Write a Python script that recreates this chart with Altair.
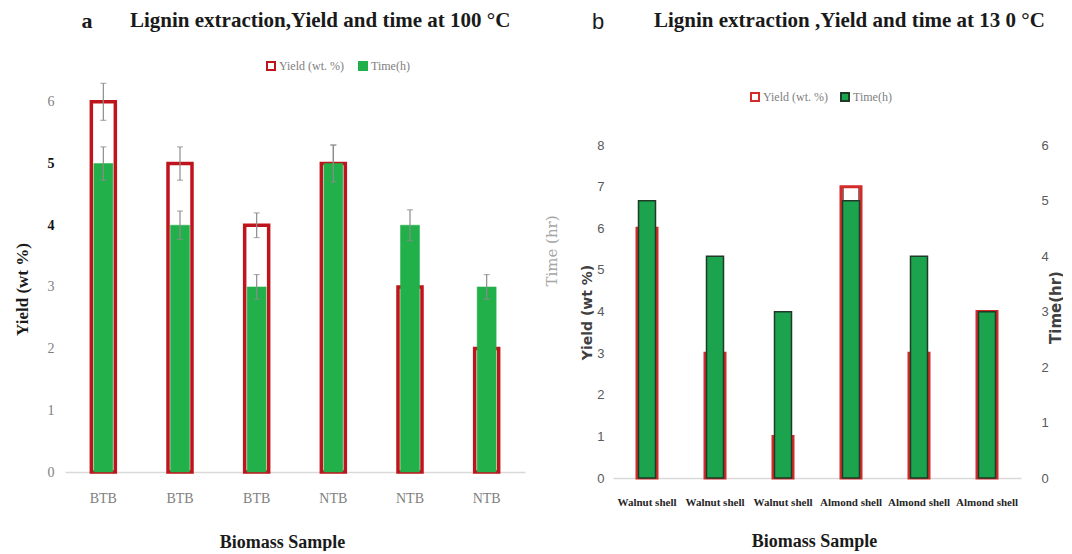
import json
import altair as alt
import pandas as pd

# ---------------- data: panel a (100 °C) ----------------
a_samples = ["BTB", "BTB", "BTB", "NTB", "NTB", "NTB"]
a_yield = [6, 5, 4, 5, 3, 2]
a_time = [5, 4, 3, 5, 4, 3]
a_yield_err = [0.3, 0.27, 0.2, 0.3, 0.25, 0.2]
a_time_err = [0.27, 0.23, 0.2, 0.3, 0.25, 0.2]
a_ticks = [0, 1, 2, 3, 4, 5, 6]

# ---------------- data: panel b (130 °C) ----------------
b_samples = ["Walnut shell", "Walnut shell", "Walnut shell",
             "Almond shell", "Almond shell", "Almond shell"]
b_yield = [6, 3, 1, 7, 3, 4]
b_time = [5, 4, 3, 5, 4, 3]
b_yield_ticks = [0, 1, 2, 3, 4, 5, 6, 7, 8]
b_time_ticks = [0, 1, 2, 3, 4, 5, 6]

series = ["Yield (wt. %)", "Time(h)"]
a_title = "Lignin extraction,Yield and time at 100  °C"
b_title = "Lignin extraction ,Yield and time at 13 0 °C"

SERIF = "Liberation Serif"
SANS = "DejaVu Sans"


def frame(values, errs, name):
    d = pd.DataFrame({"idx": list(range(len(values))), "value": values, "series": name})
    if errs is not None:
        d["lo"] = [v - e for v, e in zip(values, errs)]
        d["hi"] = [v + e for v, e in zip(values, errs)]
    return d


def text_layer(txt, x, y, **kw):
    return alt.Chart(pd.DataFrame({"t": [txt]})).mark_text(**kw).encode(
        text="t:N", x=alt.value(x), y=alt.value(y))


# ================= panel a =================
W_A, H_A = 460, 401
A_TOP = 6.5

a_y = frame(a_yield, a_yield_err, series[0])
a_t = frame(a_time, a_time_err, series[1])

ax_a = alt.X(
    "idx:O",
    scale=alt.Scale(paddingInner=0, paddingOuter=0),
    axis=alt.Axis(
        labelExpr=json.dumps(a_samples) + "[datum.value]",
        labelAngle=0, grid=False, ticks=False, tickSize=0,
        domainColor="#d9d9d9", domainWidth=1.5,
        labelFont=SERIF, labelFontSize=14, labelColor="#808080", labelPadding=19,
        title="Biomass Sample", titleFont=SERIF, titleFontSize=18, titleFontWeight="bold",
        titleColor="#1a1a1a", titleX=217, titleY=70, titleAlign="center", titleBaseline="middle",
    ),
)

cond = "datum.value == 4 || datum.value == 5"
ay_axis = alt.Axis(
    values=a_ticks, grid=False, domain=False, ticks=False, tickSize=0, labelPadding=11,
    labelFont=SERIF, labelFontSize=14,
    labelColor={"condition": {"test": cond, "value": "#111111"}, "value": "#808080"},
    labelFontWeight={"condition": {"test": cond, "value": "bold"}, "value": "normal"},
    title="Yield (wt %)", titleFont=SERIF, titleFontSize=17, titleFontWeight="bold",
    titleColor="#1a1a1a", titleAngle=270, titleX=-43, titleY=218,
    titleAlign="center", titleBaseline="middle",
)


def ya(field):
    return alt.Y(f"{field}:Q", scale=alt.Scale(domain=[0, A_TOP], nice=False), axis=ay_axis)


leg_a = alt.Legend(
    orient="none", legendX=200, legendY=-11, direction="horizontal", title=None,
    symbolType="square", symbolSize=64, symbolStrokeWidth=2,
    labelFont=SERIF, labelFontSize=12, labelColor="#808080", columnPadding=11, labelOffset=2,
)
a_fill = alt.Fill("series:N", scale=alt.Scale(domain=series, range=["#ffffff", "#22b04b"]), legend=leg_a)
a_stroke = alt.Stroke("series:N", scale=alt.Scale(domain=series, range=["#c0141c", "#22b04b"]), legend=leg_a)

a_red = alt.Chart(a_y).mark_bar(size=24, strokeWidth=3.5).encode(
    x=ax_a, y=ya("value"), fill=a_fill, stroke=a_stroke)
a_yerr = alt.Chart(a_y).mark_errorbar(
    color="#8c8c8c", thickness=1.2, ticks={"size": 6, "thickness": 1.2}
).encode(x=ax_a, y=ya("lo"), y2="hi:Q")
a_green = alt.Chart(a_t).mark_bar(size=19, strokeWidth=0.5).encode(
    x=ax_a, y=ya("value"), fill=a_fill, stroke=a_stroke)
a_terr = alt.Chart(a_t).mark_errorbar(
    color="#8c8c8c", thickness=1.2, ticks={"size": 6, "thickness": 1.2}
).encode(x=ax_a, y=ya("lo"), y2="hi:Q")

a_letter = text_layer("a", 22, -50, font=SERIF, fontSize=22, fontWeight="bold",
                      color="#1a1a1a", align="center", baseline="middle")
a_head = text_layer(a_title, 65, -50, font=SERIF, fontSize=21, fontWeight="bold",
                    color="#1a1a1a", align="left", baseline="middle")

left = alt.layer(a_red, a_yerr, a_green, a_terr, a_letter, a_head).properties(
    width=W_A, height=H_A)

# ================= panel b =================
W_B, H_B = 408, 407
B_TOP_Y = 9.78
B_TOP_T = 7.34

b_y = frame(b_yield, None, series[0])
b_t = frame(b_time, None, series[1])

ax_b = alt.X(
    "idx:O",
    scale=alt.Scale(paddingInner=0, paddingOuter=0),
    axis=alt.Axis(
        labelExpr=json.dumps(b_samples) + "[datum.value]",
        labelAngle=0, grid=False, ticks=False, tickSize=0,
        domainColor="#d9d9d9", domainWidth=1.5,
        labelFont=SERIF, labelFontSize=11, labelFontWeight="bold", labelColor="#262626",
        labelPadding=18,
        title="Biomass Sample", titleFont=SERIF, titleFontSize=18, titleFontWeight="bold",
        titleColor="#1a1a1a", titleX=201, titleY=63, titleAlign="center", titleBaseline="middle",
    ),
)

by_axis = alt.Axis(
    orient="left", values=b_yield_ticks, grid=False, domain=False, ticks=False, tickSize=0,
    labelPadding=9, labelFont="Liberation Sans", labelFontSize=13, labelColor="#595959",
    title="Yield (wt %)", titleFont=SANS, titleFontSize=14, titleFontWeight="bold",
    titleColor="#404040", titleAngle=270, titleX=-26, titleY=241,
    titleAlign="center", titleBaseline="middle",
)
bt_axis = alt.Axis(
    orient="right", values=b_time_ticks, grid=False, domain=False, ticks=False, tickSize=0,
    labelPadding=20, labelFont="Liberation Sans", labelFontSize=13, labelColor="#595959",
    title="Time(hr)", titleFont=SANS, titleFontSize=15, titleFontWeight="bold",
    titleColor="#404040", titleAngle=270, titleX=34, titleY=236,
    titleAlign="center", titleBaseline="middle",
)

leg_b = alt.Legend(
    orient="none", legendX=136, legendY=20, direction="horizontal", title=None,
    symbolType="square", symbolSize=64, symbolStrokeWidth=2,
    labelFont=SERIF, labelFontSize=12, labelColor="#808080", columnPadding=9, labelOffset=2,
)
b_fill = alt.Fill("series:N", scale=alt.Scale(domain=series, range=["#ffffff", "#1ba34d"]), legend=leg_b)
b_stroke = alt.Stroke("series:N", scale=alt.Scale(domain=series, range=["#d42a2a", "#1e3b28"]), legend=leg_b)

yb = alt.Y("value:Q", scale=alt.Scale(domain=[0, B_TOP_Y], nice=False), axis=by_axis)
tb = alt.Y("value:Q", scale=alt.Scale(domain=[0, B_TOP_T], nice=False), axis=bt_axis)

b_inner = alt.Chart(b_y).mark_bar(size=16, filled=False, stroke="#4a0d0d", strokeWidth=1.2).encode(
    x=ax_b, y=yb)
b_red = alt.Chart(b_y).mark_bar(size=20, strokeWidth=3, fillOpacity=0).encode(
    x=ax_b, y=yb, fill=b_fill, stroke=b_stroke)
b_green = alt.Chart(b_t).mark_bar(size=17, strokeWidth=1.5).encode(
    x=ax_b, y=tb, fill=b_fill, stroke=b_stroke)

b_time_lbl = text_layer("Time (hr)", -61, 180, font="DejaVu Serif", fontSize=15,
                        color="#a6a6a6", align="center", baseline="middle", angle=270)
b_letter = text_layer("b", -15, -49, font="Liberation Sans", fontSize=22,
                      color="#1a1a1a", align="center", baseline="middle")
b_head = text_layer(b_title, 41, -50, font=SERIF, fontSize=21, fontWeight="bold",
                    color="#1a1a1a", align="left", baseline="middle")

b_left = alt.layer(b_inner, b_red, b_time_lbl, b_letter, b_head)
right = alt.layer(b_left, b_green).resolve_scale(y="independent").properties(
    width=W_B, height=H_B)

chart = (
    alt.hconcat(left, right, spacing=20)
    .resolve_scale(x="independent", y="independent", fill="independent", stroke="independent")
    .resolve_legend(fill="independent", stroke="independent")
    .configure_view(stroke=None)
    .properties(padding={"left": 5, "top": 2, "right": 0, "bottom": 0})
)

chart.save("out.html", embed_options={"renderer": "svg", "actions": False})
